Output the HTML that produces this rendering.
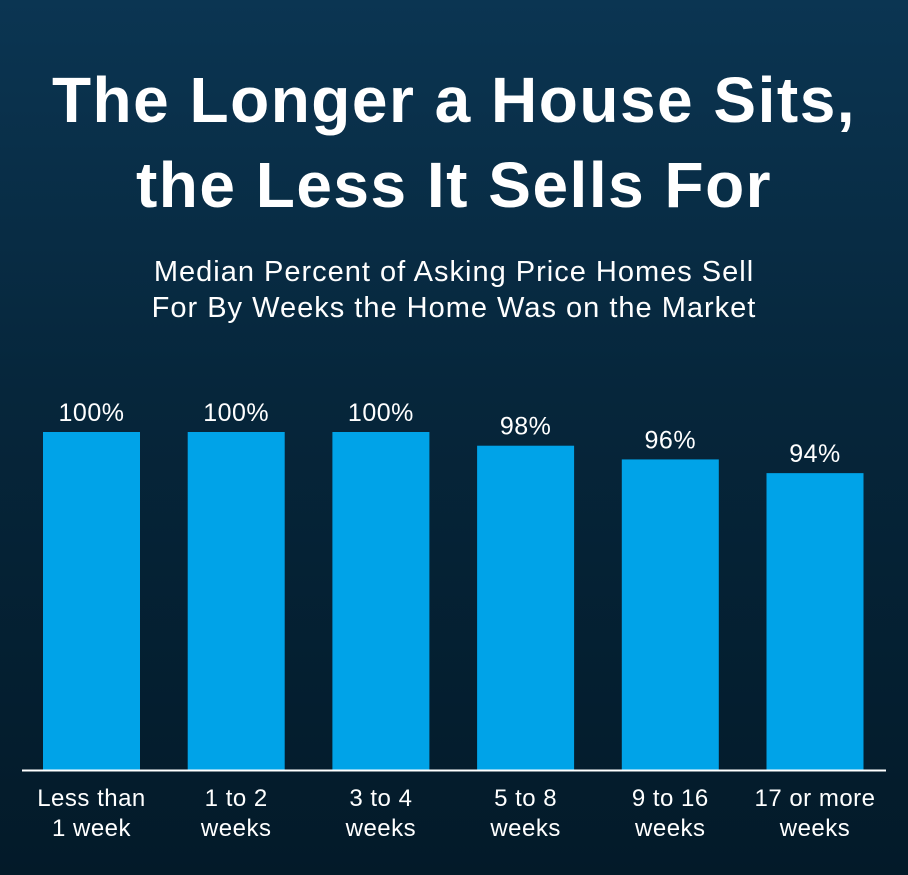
<!DOCTYPE html>
<html><head><meta charset="utf-8">
<style>
html,body{margin:0;padding:0}
body{width:908px;height:875px;overflow:hidden;background:linear-gradient(180deg,#0b3552 0%,#06263b 45%,#031a29 100%);font-family:"Liberation Sans",sans-serif;color:#fff;position:relative}
#title{position:absolute;top:58px;left:0;width:908px;text-align:center;font-weight:bold;font-size:64px;line-height:85px;letter-spacing:1.5px;white-space:nowrap}
#sub{position:absolute;top:254px;left:0;width:908px;text-align:center;font-size:29px;line-height:36px;letter-spacing:1px;white-space:nowrap}
svg{position:absolute;left:0;top:0}
</style></head><body>
<div id="title">The Longer a House Sits,<br>the Less It Sells For</div>
<div id="sub">Median Percent of Asking Price Homes Sell<br>For By Weeks the Home Was on the Market</div>
<svg id="chart" width="908" height="875"></svg>
<script>
const categories = [["Less than","1 week"],["1 to 2","weeks"],["3 to 4","weeks"],["5 to 8","weeks"],["9 to 16","weeks"],["17 or more","weeks"]];
const values = [100,100,100,98,96,94];
const valueLabels = ["100%","100%","100%","98%","96%","94%"];
const yMin = 50.7, yMax = 100;
const baseY = 770, topY = 432;
function y(v){return baseY - (v - yMin)/(yMax - yMin)*(baseY - topY);}
function x(i){return 43 + i*144.7;}
const bw = 97;
const svg = document.getElementById('chart');
const NS = "http://www.w3.org/2000/svg";
values.forEach((v,i)=>{
  const r = document.createElementNS(NS,'rect');
  r.setAttribute('x',x(i)); r.setAttribute('y',y(v)); r.setAttribute('width',bw); r.setAttribute('height',baseY-y(v));
  r.setAttribute('fill','#00a3e8');
  
  
  svg.appendChild(r);
  const t = document.createElementNS(NS,'text');
  t.setAttribute('x',x(i)+bw/2); t.setAttribute('y',y(v)-11);
  t.setAttribute('text-anchor','middle'); t.setAttribute('fill','#fff'); t.setAttribute('font-size','25'); t.setAttribute('letter-spacing','0.5');
  t.textContent = valueLabels[i];
  
  
  svg.appendChild(t);
  categories[i].forEach((line,j)=>{
    const c = document.createElementNS(NS,'text');
    c.setAttribute('x',x(i)+bw/2); c.setAttribute('y',806+j*30);
    c.setAttribute('text-anchor','middle'); c.setAttribute('fill','#fff'); c.setAttribute('font-size','24'); c.setAttribute('letter-spacing','0.5');
    c.textContent = line;
    
    
    svg.appendChild(c);
  });
});
const ax = document.createElementNS(NS,'line');
ax.setAttribute('x1',22); ax.setAttribute('x2',886); ax.setAttribute('y1',baseY+0.5); ax.setAttribute('y2',baseY+0.5);
ax.setAttribute('stroke','#fff'); ax.setAttribute('stroke-width','2');


svg.appendChild(ax);
</script>
</body></html>
